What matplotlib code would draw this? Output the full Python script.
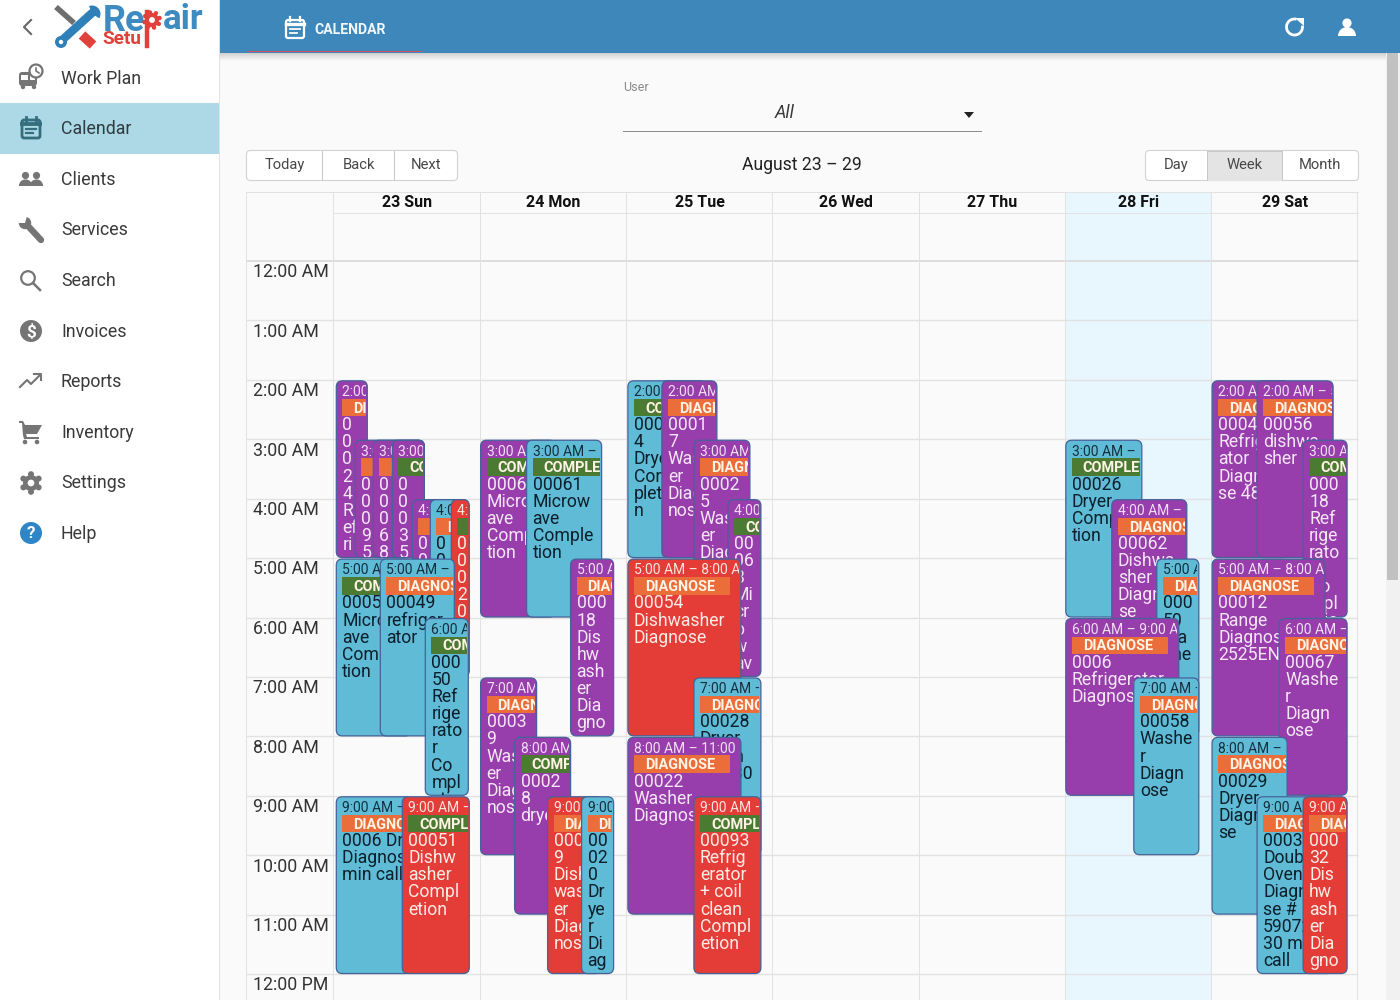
import matplotlib
matplotlib.use("Agg")
import matplotlib.pyplot as plt
import numpy as np
from matplotlib.patches import FancyBboxPatch, Rectangle, Circle, Polygon, Wedge, Arc
from matplotlib.transforms import Bbox, TransformedBbox

plt.rcParams['font.family'] = ['Roboto', 'DejaVu Sans']

# ---------- data ----------
day_labels = ["23 Sun", "24 Mon", "25 Tue", "26 Wed", "27 Thu", "28 Fri", "29 Sat"]
hour_labels = ["12:00 AM", "1:00 AM", "2:00 AM", "3:00 AM", "4:00 AM", "5:00 AM", "6:00 AM",
               "7:00 AM", "8:00 AM", "9:00 AM", "10:00 AM", "11:00 AM", "12:00 PM"]
menu_labels = ["Work Plan", "Calendar", "Clients", "Services", "Search", "Invoices",
               "Reports", "Inventory", "Settings", "Help"]
today_index = 5

event_day = [0, 0, 0, 0, 0, 0, 0, 0, 0, 0, 0, 0,
             1, 1, 1, 1, 1, 1, 1,
             2, 2, 2, 2, 2, 2, 2, 2,
             5, 5, 5, 5, 5,
             6, 6, 6, 6, 6, 6, 6, 6]
event_start = [2, 3, 3, 3, 4, 4, 4, 5, 5, 6, 9, 9,
               3, 3, 5, 7, 8, 9, 9,
               2, 2, 3, 4, 5, 7, 8, 9,
               3, 4, 5, 6, 7,
               2, 2, 3, 5, 6, 8, 9, 9]
event_end = [5, 5, 5, 5, 7, 7, 7, 8, 8, 9, 12, 12,
             6, 6, 8, 10, 11, 12, 12,
             5, 5, 6, 7, 8, 10, 11, 12,
             6, 7, 8, 9, 10,
             5, 5, 6, 8, 9, 11, 12, 12]
event_kind = ["P", "P", "P", "P", "P", "B", "R", "B", "B", "B", "B", "R",
              "P", "B", "P", "P", "P", "R", "B",
              "B", "P", "P", "P", "R", "B", "P", "R",
              "B", "P", "B", "P", "B",
              "P", "P", "P", "P", "P", "B", "B", "R"]
event_status = ["D", "D", "D", "C", "D", "D", "C", "C", "D", "C", "D", "C",
                "C", "C", "D", "D", "C", "D", "D",
                "C", "D", "D", "C", "D", "D", "D", "C",
                "C", "D", "D", "D", "D",
                "D", "D", "C", "D", "D", "D", "D", "D"]
event_lines = [
    ["0", "0", "0", "2", "4", "R", "ef", "ri", "g"],
    ["0", "0", "0", "9", "5"], ["0", "0", "0", "6", "8"], ["0", "0", "0", "3", "5"],
    ["0", "0"], ["0", "0"], ["0", "0", "0", "2", "0"],
    ["00053", "Microw", "ave", "Comple", "tion"],
    ["00049", "refriger", "ator"],
    ["000", "50", "Ref", "rige", "rato", "r", "Co", "mpl", "etio"],
    ["0006 Dryer", "Diagnose 30", "min call"],
    ["00051", "Dishw", "asher", "Compl", "etion"],
    ["00060", "Microw", "ave", "Comple", "tion"],
    ["00061", "Microw", "ave", "Comple", "tion"],
    ["000", "18", "Dis", "hw", "ash", "er", "Dia", "gno", "se"],
    ["0003", "9", "Wash", "er", "Diag", "nos"],
    ["0002", "8", "dryer"],
    ["000", "9", "Dish", "was", "er", "Diag", "nos"],
    ["00", "02", "0", "Dr", "ye", "r", "Di", "ag", "no"],
    ["0001", "4", "Dryer", "Com", "pletio", "n"],
    ["0001", "7", "Wash", "er", "Diag", "nos"],
    ["0002", "5", "Wash", "er", "Diag"],
    ["00", "06", "3", "Mi", "cr", "o", "w", "av"],
    ["00054", "Dishwasher", "Diagnose"],
    ["00028", "Dryer", "Diagn", "ose 30"],
    ["00022", "Washer", "Diagnose"],
    ["00093", "Refrig", "erator", "+ coil", "clean", "Compl", "etion"],
    ["00026", "Dryer", "Compl", "tion"],
    ["00062", "Dishwa", "sher", "Diagno", "se"],
    ["000", "50", "Wa", "she"],
    ["0006", "Refrigerator", "Diagnose"],
    ["00058", "Washe", "r", "Diagn", "ose"],
    ["00044", "Refriger", "ator", "Diagno", "se 48"],
    ["00056", "dishwa", "sher"],
    ["000", "18", "Ref", "rige", "rato", "r", "Co", "mpl", "etio"],
    ["00012", "Range", "Diagnose", "2525EN"],
    ["00067", "Washe", "r", "Diagn", "ose"],
    ["00029", "Dryer", "Diagno", "se"],
    ["00031", "Double", "Oven", "Diagno", "se #", "59072", "30 min", "call"],
    ["000", "32", "Dis", "hw", "ash", "er", "Dia", "gno", "se"],
]
status_names = {"D": "DIAGNOSE", "C": "COMPLETE"}

# ---------- layout and style ----------
# lane placement inside a day column, in pixels from the column's left edge
lane_left = [3, 22, 40, 59, 79, 97, 118, 3, 47, 92, 3, 69,
             1, 47, 91, 1, 35, 68, 102,
             2, 36, 68, 102, 2, 68, 2, 68,
             1, 47, 92, 1, 69,
             1, 46, 92, 1, 68, 1, 46, 92]
lane_right = [34, 91, 91, 91, 135, 135, 136, 78, 121, 135, 78, 136,
              76, 122, 134, 57, 91, 122, 134,
              80, 91, 124, 135, 115, 135, 115, 135,
              77, 122, 134, 114, 134,
              78, 122, 136, 114, 136, 76, 122, 136]

C_GRID = "#E2E2E2"
C_BG = "#FAFAFA"
C_HEAD = "#3D87BB"
C_ICON = "#757575"
C_TEXT = "#3A3A3A"
KIND_COLOR = {"P": "#973DAC", "B": "#5FBBD6", "R": "#E43C37"}
KIND_TEXT = {"P": "#F5E6F6", "B": "#0C1F2B", "R": "#FDEBE6"}
KIND_TIME = {"P": "#F0E0F2", "B": "#14303E", "R": "#FBE4E0"}
STATUS_COLOR = {"D": "#EA6D3A", "C": "#4B7A33"}
C_EDGE = "#45629A"

GRID_L, GRID_T, COL_W, HOUR_H = 333.8, 261.0, 146.3, 59.42
TEXT_DY = 1.4


def px(n):
    return n * 0.72


fig = plt.figure(figsize=(14, 10), dpi=100, facecolor=C_BG)
bg = fig.add_axes([0, 0, 1, 1])
bg.set_xlim(0, 1400)
bg.set_ylim(1000, 0)
bg.axis("off")


def T(x, y, s, size, color=C_TEXT, ha="left", va="center", **kw):
    return bg.text(x, y + TEXT_DY, s, fontsize=px(size), color=color, ha=ha, va=va, **kw)


def R(x0, y0, x1, y1, color, z=1, **kw):
    bg.add_patch(Rectangle((x0, y0), x1 - x0, y1 - y0, facecolor=color, edgecolor="none", zorder=z, **kw))


def RR(x0, y0, x1, y1, r, fc, ec="none", lw=1.0, z=2):
    bg.add_patch(FancyBboxPatch((x0, y0), x1 - x0, y1 - y0, boxstyle=f"round,pad=0,rounding_size={r}",
                                fc=fc, ec=ec, lw=lw, zorder=z))


# ---------- sidebar ----------
R(0, 0, 219, 1000, "white")
R(219, 0, 220, 1000, "#E2E2E2", z=1.5)
R(0, 103, 219, 154, "#ADD8E6")
menu_y = [77.5, 128, 178.5, 229, 279.5, 330.5, 381, 431.5, 482, 532.5]
for lab, yy in zip(menu_labels, menu_y):
    T(61, yy, lab, 17.7, color="#2F3B40" if lab == "Calendar" else C_TEXT, zorder=3)

bg.plot([31, 24, 31], [20, 27, 34], color="#666666", lw=1.5, zorder=3)


def ico_bus(cx, cy):
    RR(cx - 12, cy - 6, cx + 6, cy + 8, 3, C_ICON, z=3)
    R(cx - 10, cy - 3, cx - 3, cy + 2, "white", z=4)
    R(cx - 1, cy - 3, cx + 4, cy + 2, "white", z=4)
    for dx_ in (-8, 3):
        bg.add_patch(Circle((cx + dx_, cy + 9), 2.2, fc=C_ICON, ec="none", zorder=3))
    bg.add_patch(Circle((cx + 5, cy - 7), 6.5, fc="white", ec=C_ICON, lw=1.6, zorder=5))
    bg.plot([cx + 5, cx + 5, cx + 8], [cy - 10, cy - 7, cy - 5], color=C_ICON, lw=1.2, zorder=6)


def ico_cal(cx, cy, c, lw=1.8, z=3):
    RR(cx - 9, cy - 8, cx + 9, cy + 10, 2, "none", ec=c, lw=lw, z=z)
    bg.plot([cx - 9, cx + 9], [cy - 4, cy - 4], color=c, lw=lw + .8, zorder=z)
    for dx_ in (-5, 5):
        bg.plot([cx + dx_, cx + dx_], [cy - 11, cy - 7], color=c, lw=lw, zorder=z)
    bg.plot([cx - 5, cx + 5], [cy + 1, cy + 1], color=c, lw=lw * .8, zorder=z)
    bg.plot([cx - 5, cx + 2], [cy + 5, cy + 5], color=c, lw=lw * .8, zorder=z)


def ico_people(cx, cy):
    for dx_ in (-5.5, 5.5):
        bg.add_patch(Circle((cx + dx_, cy - 3.5), 3.6, fc=C_ICON, ec="none", zorder=3))
        bg.add_patch(Wedge((cx + dx_, cy + 7), 6.6, 180, 360, fc=C_ICON, ec="none", zorder=3))


def ico_wrench(cx, cy):
    bg.plot([cx - 3, cx + 10], [cy - 3, cy + 11], color=C_ICON, lw=4.6, solid_capstyle="round", zorder=3)
    bg.add_patch(Circle((cx - 6, cy - 6), 6.2, fc=C_ICON, ec="none", zorder=3))
    bg.add_patch(Polygon([(cx - 12, cy - 13), (cx - 4, cy - 13), (cx - 6, cy - 6), (cx - 12, cy - 6)],
                         fc="white", ec="none", zorder=4))


def ico_search(cx, cy):
    bg.add_patch(Circle((cx - 3, cy - 2), 6.8, fc="none", ec=C_ICON, lw=1.6, zorder=3))
    bg.plot([cx + 2, cx + 9], [cy + 3, cy + 10], color=C_ICON, lw=1.8, zorder=3)


def ico_dollar(cx, cy):
    bg.add_patch(Circle((cx, cy), 11, fc=C_ICON, ec="none", zorder=3))
    T(cx, cy - .5, "$", 17, color="white", ha="center", weight="bold", zorder=4)


def ico_trend(cx, cy):
    bg.plot([cx - 11, cx - 4, cx + 0, cx + 9], [cy + 6, cy - 1, cy + 3, cy - 6], color=C_ICON, lw=1.5, zorder=3)
    bg.plot([cx + 3, cx + 10, cx + 10], [cy - 7, cy - 7, cy - 1], color=C_ICON, lw=1.5, zorder=3)


def ico_cart(cx, cy):
    bg.add_patch(Polygon([(cx - 12, cy - 11), (cx - 8, cy - 11), (cx - 6, cy - 7), (cx + 11, cy - 7),
                          (cx + 6, cy + 2), (cx - 5, cy + 2), (cx - 4, cy + 5), (cx + 8, cy + 5),
                          (cx + 8, cy + 7), (cx - 7, cy + 7), (cx - 8, cy + 3), (cx - 9, cy - 9), (cx - 12, cy - 9)],
                         fc=C_ICON, ec="none", zorder=3))
    for dx_ in (-6, 6):
        bg.add_patch(Circle((cx + dx_, cy + 10), 2.3, fc=C_ICON, ec="none", zorder=3))


def ico_gear(cx, cy, r=8, c=C_ICON, hole="white", tooth=3.0, z=3, n=6):
    for a in np.arange(0, 360, 360 / n):
        ar = np.radians(a + 30)
        bg.add_patch(Circle((cx + (r + .8) * np.cos(ar), cy + (r + .8) * np.sin(ar)), tooth, fc=c, ec="none", zorder=z))
    bg.add_patch(Circle((cx, cy), r, fc=c, ec="none", zorder=z))
    bg.add_patch(Circle((cx, cy), r * .42, fc=hole, ec="none", zorder=z + .1))


def ico_help(cx, cy):
    bg.add_patch(Circle((cx, cy), 11, fc="#2E86C6", ec="none", zorder=3))
    T(cx, cy - .5, "?", 17, color="white", ha="center", weight="bold", zorder=4)


ico_bus(31, 78)
ico_cal(31, 128, "#356F7E", lw=2)
ico_people(31, 179)
ico_wrench(31, 229)
ico_search(31, 280)
ico_dollar(31, 331)
ico_trend(31, 381)
ico_cart(31, 432)
ico_gear(31, 483)
ico_help(31, 533)

# logo
bg.plot([56, 74], [7, 23], color="#6E6E6E", lw=4, solid_capstyle="butt", zorder=3)
bg.plot([60, 92], [42, 13], color="#2F7FB8", lw=6, solid_capstyle="round", zorder=4)
bg.add_patch(Circle((61, 42), 6, fc="#2F7FB8", ec="none", zorder=4))
bg.add_patch(Circle((61, 42), 2.2, fc="white", ec="none", zorder=5))
bg.add_patch(Wedge((92, 14), 8.5, 250, 30, fc="#2F7FB8", ec="none", zorder=4))
bg.plot([82, 93], [35, 45], color="#E0413A", lw=7, solid_capstyle="butt", zorder=4)
T(103, 20, "Re", 36, color="#3D8BC0", weight="bold", zorder=4)
T(163, 18, "air", 35, color="#3D8BC0", weight="bold", zorder=4)
T(102, 38, "Setu", 19, color="#E0413A", weight="bold", zorder=6)
bg.plot([147, 147], [12, 46], color="#E0413A", lw=3.2, zorder=5)
ico_gear(152, 20, r=7, c="#E0413A", hole="white", tooth=2.2, z=5, n=8)

# ---------- header ----------
for i, a in enumerate(np.linspace(.16, .01, 8)):
    R(220, 53 + i, 1400, 54 + i, "black", z=1.2, alpha=a)
R(220, 0, 1400, 53, C_HEAD, z=2)
R(247, 50.5, 422, 52, "#D9515A", z=3)
ico_cal(295, 28, "white", lw=1.6)
T(314, 29, "CALENDAR", 14, color="#F2F7FA", weight="bold", zorder=4)
bg.add_patch(Arc((1294.5, 27), 16, 16, theta1=-10, theta2=285, color="white", lw=2, zorder=4))
bg.add_patch(Polygon([(1295, 18), (1304, 18), (1304, 26)], fc="white", ec="none", zorder=4))
bg.add_patch(Circle((1347, 23), 4.6, fc="white", ec="none", zorder=4))
bg.add_patch(Wedge((1347, 36), 9, 180, 360, fc="white", ec="none", zorder=4))

# scrollbar
R(1386, 53, 1400, 1000, "#F1F1F1", z=1.3)
R(1387, 53, 1398, 580, "#C1C1C1", z=1.4)

# ---------- toolbar ----------
T(623, 86, "User", 12.5, color="#8A8A8A")
T(785, 112, "All", 18, color="#3A3A3A", ha="center", style="italic")
bg.add_patch(Polygon([(964, 112), (974, 112), (969, 118)], fc="#222222", ec="none", zorder=3))
R(623, 130.5, 982, 131.7, "#8C8C8C")
T(801.5, 164, "August 23 \u2013 29", 17.6, color="#222222", ha="center")

for edges, labs, active in [([246.5, 322.5, 394.5, 457.5], ["Today", "Back", "Next"], None),
                            ([1145.5, 1207.5, 1282, 1358.5], ["Day", "Week", "Month"], 1)]:
    RR(edges[0], 150.5, edges[-1], 180.5, 4, "white", ec="#D2D2D2", lw=.8, z=2)
    for i, lab in enumerate(labs):
        if i == active:
            R(edges[i], 150.5, edges[i + 1], 180.5, "#E4E4E4", z=2.1)
            R(edges[i], 150.5, edges[i + 1], 152, "#C8C8C8", z=2.15)
        T((edges[i] + edges[i + 1]) / 2, 164, lab, 14.8, color="#474747", ha="center", zorder=3)
    for e in edges[1:-1]:
        R(e - .5, 150.5, e + .5, 180.5, "#C8C8C8", z=2.2)

# ---------- calendar grid frame (header row and columns) ----------
R(GRID_L + today_index * COL_W, 192, GRID_L + (today_index + 1) * COL_W, 1000, "#E8F6FE", z=.5)
R(246, 192, 1358.5, 193, C_GRID)
R(333, 213, 1358.5, 214, C_GRID)
R(246, 259.5, 1358.5, 262, "#DDDDDD")
R(246, 192, 247, 1000, C_GRID)
for d in range(8):
    xx = GRID_L + d * COL_W
    R(xx - .5, 192, xx + .5, 1000, C_GRID)
for d, lab in enumerate(day_labels):
    T(GRID_L + (d + .5) * COL_W, 201.5, lab, 16, color="#111111", ha="center", weight="bold", zorder=3)

# ---------- calendar axes: x = day index, y = hour of day ----------
ax = fig.add_axes([GRID_L / 1400, 0, 7 * COL_W / 1400, (1000 - GRID_T) / 1000])
ax.set_xlim(0, 7)
ax.set_ylim((1000 - GRID_T) / HOUR_H, 0)
ax.patch.set_alpha(0)
ax.axis("off")

ax.hlines(np.arange(1, len(hour_labels)), -87.8 / COL_W, 7, color=C_GRID, lw=1, clip_on=False, zorder=1)
for h, lab in enumerate(hour_labels):
    ax.annotate(lab, (0, h), xytext=(-80.8, -10 - TEXT_DY), textcoords="offset pixels", fontsize=px(17.7),
                color="#333333", ha="left", va="center", annotation_clip=False, zorder=2)


def fmt(h):
    return f"{h % 12 or 12}:00 {'AM' if h < 12 else 'PM'}"


dx = 1 / COL_W
aspect = COL_W / HOUR_H
for i, (d, s, e, k, st, lines) in enumerate(zip(event_day, event_start, event_end, event_kind, event_status, event_lines)):
    z = 10 + i
    x0 = d + (lane_left[i] - .5) * dx
    x1 = d + (lane_right[i] - .5) * dx
    y0, y1 = s + 1 / HOUR_H, e - .5 / HOUR_H
    ax.add_patch(FancyBboxPatch((x0, y0), x1 - x0, y1 - y0,
                                boxstyle=f"round,pad=0,rounding_size={6 * dx}", mutation_aspect=aspect,
                                fc=KIND_COLOR[k], ec=C_EDGE, lw=.9, zorder=z))
    clip = TransformedBbox(Bbox([[x0 + dx, y0], [x1 - 1.5 * dx, y1 - .5 / HOUR_H]]), ax.transData)

    def lab(txt, ox, oy, size, col, **kw):
        t = ax.annotate(txt, (x0, s), xytext=(ox, -oy - TEXT_DY), textcoords="offset pixels", fontsize=px(size),
                        color=col, ha="left", va="center", annotation_clip=False, zorder=z + .2, **kw)
        t.set_clip_on(True)
        t.set_clip_box(clip)
        return t

    lab(f"{fmt(s)} \u2013 {fmt(e)}", 6, 11, 13.9, KIND_TIME[k])
    badge = Rectangle((x0 + 6 * dx, s + 19 / HOUR_H), 96 * dx, 17.5 / HOUR_H, fc=STATUS_COLOR[st], ec="none", zorder=z + .1)
    ax.add_patch(badge)
    badge.set_clip_box(clip)
    lab(status_names[st], 17, 27.5, 14.5, "#FFF3E6", weight="bold")
    for j, ln in enumerate(lines):
        lab(ln, 6, 44 + 17.1 * j, 17.6, KIND_TEXT[k])

fig.savefig("out.png", dpi=100, facecolor=C_BG)
